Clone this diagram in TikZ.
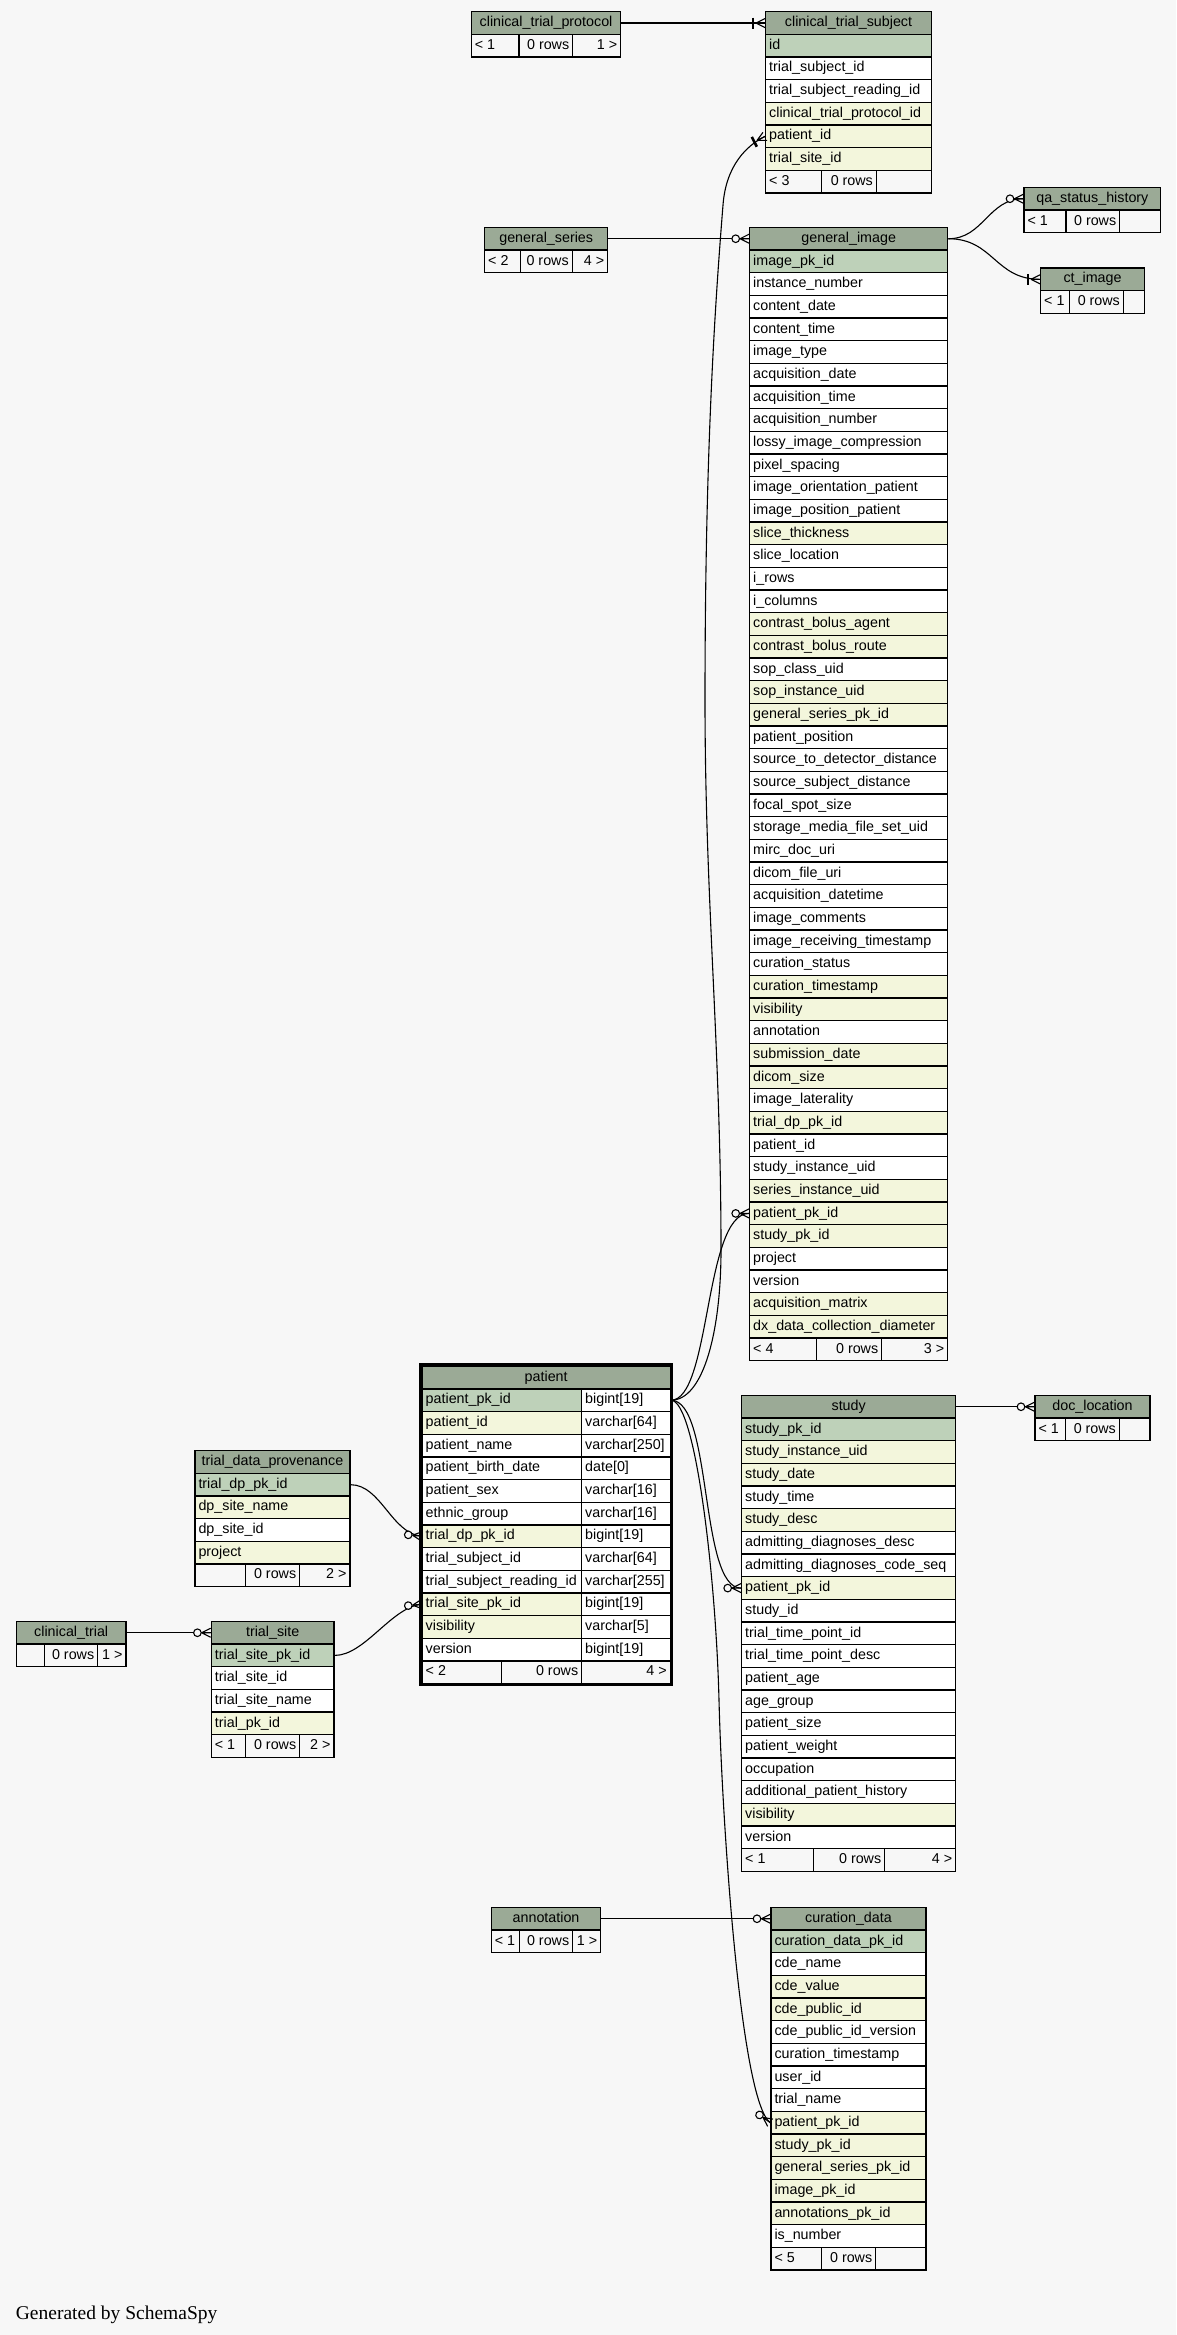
\documentclass[tikz,border=0pt]{standalone}
\usepackage{fontspec}
\setmainfont{Liberation Sans}
\newfontfamily\footfont{Liberation Serif}

\definecolor{bg}{HTML}{F7F7F7}
\definecolor{hd}{HTML}{9BAA96}
\definecolor{pk}{HTML}{BED1B9}
\definecolor{ix}{HTML}{F3F6DC}
\definecolor{pl}{HTML}{FFFFFF}
\definecolor{ft}{HTML}{F7F7F7}

\def\rh{22.667}

\tikzset{
  cell/.style={draw=black, line width=1.4pt, rectangle, inner sep=0pt,
    anchor=north west, minimum height=22.667pt, text height=10.6pt,
    text depth=3.4pt, font=\fontsize{14.3pt}{17pt}\selectfont},
  edge/.style={draw=black, line width=1.1pt},
  zmany/.pic={
    \draw[line width=1.1pt] (-9,0) -- (0,4.5) (-9,0) -- (0,0) (-9,0) -- (0,-4.5);
    \draw[line width=1.1pt, fill=bg] (-13.3,0) circle (3.8pt);
  },
  omany/.pic={
    \draw[line width=1.1pt] (-9,0) -- (0,4.5) (-9,0) -- (0,0) (-9,0) -- (0,-4.5);
    \draw[line width=2.6pt] (-12,-5.5) -- (-12,5.5);
  },
}

% table header: id, x, y, width, title
\newcommand\dbhead[5]{%
  \node[cell, fill=hd, minimum width=#4pt] (#1-h) at (#2,#3)
    {\makebox[\dimexpr#4pt-7pt\relax]{#5}};
}
% column rows below a header at y: id, x, y, width, list colour/name
\newcommand\dbrows[5]{%
  \foreach \cl/\tx [count=\i] in {#5} {
    \node[cell, fill=\cl, minimum width=#4pt] (#1-\i) at (#2,{#3+\i*\rh})
      {\makebox[\dimexpr#4pt-7pt\relax][l]{\tx}};
  }
}
% footer with three cells: id, x, y, w1, w2, w3, t1, t2, t3
\newcommand\dbfoot[9]{%
  \node[cell, fill=ft, minimum width=#4pt] (#1-f1) at (#2,{#3})
    {\makebox[\dimexpr#4pt-7pt\relax][l]{#7}};
  \node[cell, fill=ft, minimum width=#5pt] (#1-f2) at ({#2+#4},{#3})
    {\makebox[\dimexpr#5pt-7pt\relax][r]{#8}};
  \node[cell, fill=ft, minimum width=#6pt] (#1-f3) at ({#2+#4+#5},{#3})
    {\makebox[\dimexpr#6pt-7pt\relax][r]{#9}};
}

\begin{document}
\begin{tikzpicture}[x=1pt,y=-1pt]
\useasboundingbox (0,0) rectangle (1176,2335);
\fill[bg] (0,0) rectangle (1176,2335);

% clinical_trial_protocol
\dbhead{ctp}{470.7}{11}{149.3}{clinical\_trial\_protocol}
\dbfoot{ctp}{470.7}{11+\rh}{47.6}{53.7}{48}{< 1}{0 rows}{1 >}

% clinical_trial_subject
\dbhead{cts}{765}{11}{165.7}{clinical\_trial\_subject}
\dbrows{cts}{765}{11}{165.7}{pk/id, pl/trial\_subject\_id, pl/trial\_subject\_reading\_id,
  ix/clinical\_trial\_protocol\_id, ix/patient\_id, ix/trial\_site\_id}
\dbfoot{cts}{765}{11+7*\rh}{56}{54.7}{55}{< 3}{0 rows}{}

% general_series
\dbhead{gs}{484}{226.7}{123}{general\_series}
\dbfoot{gs}{484}{226.7+\rh}{35.5}{52}{35.5}{< 2}{0 rows}{4 >}

% general_image
\dbhead{gi}{749}{226.7}{198}{general\_image}
\dbrows{gi}{749}{226.7}{198}{pk/image\_pk\_id, pl/instance\_number, pl/content\_date,
  pl/content\_time, pl/image\_type, pl/acquisition\_date, pl/acquisition\_time,
  pl/acquisition\_number, pl/lossy\_image\_compression, pl/pixel\_spacing,
  pl/image\_orientation\_patient, pl/image\_position\_patient, ix/slice\_thickness,
  pl/slice\_location, pl/i\_rows, pl/i\_columns, ix/contrast\_bolus\_agent,
  ix/contrast\_bolus\_route, pl/sop\_class\_uid, ix/sop\_instance\_uid,
  ix/general\_series\_pk\_id, pl/patient\_position, pl/source\_to\_detector\_distance,
  pl/source\_subject\_distance, pl/focal\_spot\_size, pl/storage\_media\_file\_set\_uid,
  pl/mirc\_doc\_uri, pl/dicom\_file\_uri, pl/acquisition\_datetime, pl/image\_comments,
  pl/image\_receiving\_timestamp, pl/curation\_status, ix/curation\_timestamp,
  ix/visibility, pl/annotation, ix/submission\_date, ix/dicom\_size,
  pl/image\_laterality, ix/trial\_dp\_pk\_id, pl/patient\_id, pl/study\_instance\_uid,
  ix/series\_instance\_uid, ix/patient\_pk\_id, ix/study\_pk\_id, pl/project,
  pl/version, ix/acquisition\_matrix, ix/dx\_data\_collection\_diameter}
\dbfoot{gi}{749}{226.7+49*\rh}{67}{65}{66}{< 4}{0 rows}{3 >}

% qa_status_history
\dbhead{qa}{1023.3}{186.7}{136.7}{qa\_status\_history}
\dbfoot{qa}{1023.3}{186.7+\rh}{42}{53.7}{41}{< 1}{0 rows}{}

% ct_image
\dbhead{ct}{1040}{267.3}{103.7}{ct\_image}
\dbfoot{ct}{1040}{267.3+\rh}{28.7}{54}{21}{< 1}{0 rows}{}

% study
\dbhead{st}{741}{1394.7}{214}{study}
\dbrows{st}{741}{1394.7}{214}{pk/study\_pk\_id, ix/study\_instance\_uid, ix/study\_date,
  pl/study\_time, ix/study\_desc, pl/admitting\_diagnoses\_desc,
  pl/admitting\_diagnoses\_code\_seq, ix/patient\_pk\_id, pl/study\_id,
  pl/trial\_time\_point\_id, pl/trial\_time\_point\_desc, pl/patient\_age,
  pl/age\_group, pl/patient\_size, pl/patient\_weight, pl/occupation,
  pl/additional\_patient\_history, ix/visibility, pl/version}
\dbfoot{st}{741}{1394.7+20*\rh}{72}{71}{71}{< 1}{0 rows}{4 >}

% doc_location
\dbhead{dl}{1034.3}{1394.7}{115}{doc\_location}
\dbfoot{dl}{1034.3}{1394.7+\rh}{30.7}{53.7}{30.6}{< 1}{0 rows}{}

% patient (two columns, heavy frame)
\dbhead{pt}{421.5}{1365.5}{248}{patient}
\foreach \cl/\tx/\ty [count=\i] in {pk/patient\_pk\_id/bigint[19],
  ix/patient\_id/varchar[64], pl/patient\_name/varchar[250],
  pl/patient\_birth\_date/date[0], pl/patient\_sex/varchar[16],
  pl/ethnic\_group/varchar[16], ix/trial\_dp\_pk\_id/bigint[19],
  pl/trial\_subject\_id/varchar[64], pl/trial\_subject\_reading\_id/varchar[255],
  ix/trial\_site\_pk\_id/bigint[19], ix/visibility/varchar[5], pl/version/bigint[19]} {
  \node[cell, fill=\cl, minimum width=159.5pt] (pt-\i) at (421.5,{1365.5+\i*\rh})
    {\makebox[152.5pt][l]{\tx}};
  \node[cell, fill=pl, minimum width=88.5pt] (pt-\i t) at (581,{1365.5+\i*\rh})
    {\makebox[81.5pt][l]{\ty}};
}
\dbfoot{pt}{421.5}{1365.5+13*\rh}{79.5}{80}{88.5}{< 2}{0 rows}{4 >}
\draw[line width=3pt] (420,1364) rectangle (671,1684.3);

% trial_data_provenance
\dbhead{tdp}{194.3}{1450}{155}{trial\_data\_provenance}
\dbrows{tdp}{194.3}{1450}{155}{pk/trial\_dp\_pk\_id, ix/dp\_site\_name, pl/dp\_site\_id, ix/project}
\dbfoot{tdp}{194.3}{1450+5*\rh}{50.7}{54}{50.3}{}{0 rows}{2 >}

% clinical_trial
\dbhead{ctr}{15.7}{1620.7}{109.6}{clinical\_trial}
\dbfoot{ctr}{15.7}{1620.7+\rh}{28}{53.3}{28.3}{}{0 rows}{1 >}

% trial_site
\dbhead{ts}{210.7}{1620.7}{122.6}{trial\_site}
\dbrows{ts}{210.7}{1620.7}{122.6}{pk/trial\_site\_pk\_id, pl/trial\_site\_id, pl/trial\_site\_name, ix/trial\_pk\_id}
\dbfoot{ts}{210.7}{1620.7+5*\rh}{34.3}{54}{34.3}{< 1}{0 rows}{2 >}

% annotation
\dbhead{an}{490.7}{1906.7}{109.3}{annotation}
\dbfoot{an}{490.7}{1906.7+\rh}{28}{53.3}{28}{< 1}{0 rows}{1 >}

% curation_data
\dbhead{cd}{770.3}{1906.7}{155}{curation\_data}
\dbrows{cd}{770.3}{1906.7}{155}{pk/curation\_data\_pk\_id, pl/cde\_name, ix/cde\_value,
  ix/cde\_public\_id, pl/cde\_public\_id\_version, pl/curation\_timestamp, pl/user\_id,
  pl/trial\_name, ix/patient\_pk\_id, ix/study\_pk\_id, ix/general\_series\_pk\_id,
  ix/image\_pk\_id, ix/annotations\_pk\_id, pl/is\_number}
\dbfoot{cd}{770.3}{1906.7+15*\rh}{50.7}{54}{50.3}{< 5}{0 rows}{}

% straight relationships
\draw[edge] (ctp-h.east) -- (cts-h.west);
\pic at (cts-h.west) {omany};
\draw[edge] (gs-h.east) -- (gi-h.west);
\pic at (gi-h.west) {zmany};
\draw[edge] (st-h.east) -- (dl-h.west);
\pic at (dl-h.west) {zmany};
\draw[edge] (ctr-h.east) -- (ts-h.west);
\pic at (ts-h.west) {zmany};
\draw[edge] (an-h.east) -- (cd-h.west);
\pic at (cd-h.west) {zmany};

% curved relationships
\draw[edge] (gi-h.east) .. controls +(35,0) and +(-35,0) .. (qa-h.west);
\pic at (qa-h.west) {zmany};
\draw[edge] (gi-h.east) .. controls +(45,0) and +(-45,0) .. (ct-h.west);
\pic at (ct-h.west) {omany};

\draw[edge] (tdp-1.east) .. controls +(30,0) and +(-30,-3) .. (pt-7.west);
\pic[rotate=-6] at (pt-7.west) {zmany};
\draw[edge] (ts-1.east) .. controls +(30,0) and +(-30,3) .. (pt-10.west);
\pic[rotate=6] at (pt-10.west) {zmany};

\draw[edge] (pt-1t.east) .. controls +(40,0) and +(-45,0) .. (gi-43.west);
\pic at (gi-43.west) {zmany};
\draw[edge] (pt-1t.east) .. controls +(42,0) and +(-42,0) .. (st-8.west);
\pic at (st-8.west) {zmany};

\coordinate (c1) at (719,1700);
\draw[edge] (pt-1t.east) .. controls +(25,0) and +(-3,-120) .. (c1)
  .. controls +(3,120) and +(-30,-22) .. (cd-9.west);
\pic[rotate=-36] at (cd-9.west) {zmany};

\coordinate (s1) at (721,1250);
\coordinate (s2) at (705,700);
\coordinate (s3) at (723,205);
\draw[edge] (pt-1t.east) .. controls +(33,0) and +(0,80) .. (s1)
  .. controls +(0,-200) and +(0,200) .. (s2)
  .. controls +(0,-250) and +(-8,100) .. (s3)
  .. controls +(3,-40) and +(-18,9) .. (cts-5.west);
\pic[rotate=27] at (cts-5.west) {omany};

\node[anchor=base west, inner sep=0pt, font=\footfont\fontsize{19.5pt}{22pt}\selectfont]
  (gen) at (15.7,2319.3) {Generated by SchemaSpy};
\end{tikzpicture}
\end{document}
